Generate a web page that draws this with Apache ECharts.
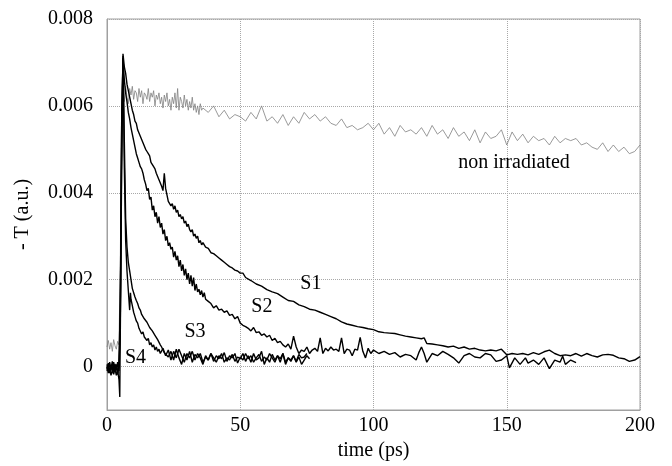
<!DOCTYPE html>
<html>
<head>
<meta charset="utf-8">
<script src="https://cdn.jsdelivr.net/npm/echarts@6/dist/echarts.min.js"></script>
<style>html,body{margin:0;padding:0;background:#fff}#c{width:672px;height:466px}</style>
</head>
<body>
<div id="c"></div>
<script>
// Values: [time (ps), -T in units of 1e-3 a.u.]
const UNIT = 1e-3;
const xTicks = [0, 50, 100, 150, 200];
const yTicks = [0, 0.002, 0.004, 0.006, 0.008];

const nonIrradiated = [
[0,0.45],[0.5,0.60],[1,0.40],[1.5,0.55],[2,0.35],[2.5,0.62],[3,0.48],[3.5,0.40],[4,0.58],[4.5,0.50],[5,2.5],[5.5,5.9],
[6,6.35],[6.5,6.10],[7,6.45],[7.5,6.20],[8,6.05],[8.5,6.40],[9,6.25],[9.5,6.45],[10,6.15],[10.5,6.35],[11,6.30],[11.5,6.10],
[12,6.40],[12.5,6.20],[13,6.35],[13.5,6.05],[14,6.30],[14.5,6.25],[15,6.15],[15.5,6.40],[16,6.10],[16.5,6.30],[17,6.20],[17.5,6.35],
[18,6.00],[18.5,6.25],[19,6.15],[19.5,6.30],[20,6.05],[20.5,6.20],[21,5.95],[21.5,6.25],[22,6.10],[22.5,6.30],[23,6.00],[23.5,6.15],
[24,5.90],[24.5,6.20],[25,6.05],[25.5,6.30],[26,5.95],[26.5,6.40],[27,5.90],[27.5,6.20],[28,6.10],[28.5,5.95],[29,6.25],[29.5,6.00],
[30,6.15],[30.5,5.90],[31,6.10],[31.5,5.95],[32,6.20],[32.5,5.90],[33,6.05],[33.5,5.85],[34,6.00],[34.5,5.80],[35,6.05],[35.5,5.90],[36,5.95],
[38,5.85],[40,6.00],[42,5.75],[44,5.90],[46,5.70],[48,5.80],[50,5.75],[52,5.65],[54,5.85],[56,5.70],[58,6.00],[60,5.65],[62,5.75],
[64,5.60],[66,5.80],[68,5.55],[70,5.75],[72,5.60],[74,5.85],[76,5.70],[78,5.80],[80,5.65],[82,5.75],[84,5.60],[86,5.55],[88,5.70],
[90,5.50],[92,5.55],[94,5.45],[96,5.50],[98,5.60],[100,5.45],[102,5.60],[104,5.35],[106,5.50],[108,5.30],[110,5.55],[112,5.40],
[114,5.45],[116,5.35],[118,5.50],[120,5.30],[122,5.55],[124,5.35],[126,5.45],[128,5.25],[130,5.50],[132,5.30],[134,5.40],[136,5.20],
[138,5.45],[140,5.15],[142,5.40],[144,5.25],[146,5.30],[148,5.45],[150,5.10],[152,5.40],[154,5.20],[156,5.35],[158,5.15],[160,5.30],
[162,5.20],[164,5.25],[166,5.10],[168,5.30],[170,5.15],[172,5.25],[174,5.20],[176,5.25],[178,5.10],[180,5.15],[182,5.05],[184,5.00],
[186,5.15],[188,4.95],[190,5.10],[192,4.95],[194,5.05],[196,4.90],[198,4.95],[200,5.10]
];

const s1 = [
[0,-0.05],[0.5,0.08],[1,-0.12],[1.5,0.02],[2,-0.08],[2.5,0.10],[3,-0.10],[3.5,0.05],[4,-0.15],[4.5,0.0],[5,1.2],[5.5,5.0],[6,7.2],
[6.5,6.9],[7,6.75],[7.5,6.5],[8,6.35],[8.5,6.2],[9,6.05],[9.5,5.9],[10,5.8],[10.5,5.65],[11,5.6],[11.5,5.45],[12,5.45],[12.5,5.3],
[13,5.3],[13.5,5.15],[14,5.15],[14.5,5.0],[15,4.95],[15.5,4.9],[16,4.85],[16.5,4.7],[17,4.7],[17.5,4.6],[18,4.55],[18.5,4.45],
[19,4.45],[19.5,4.3],[20,4.3],[20.5,4.15],[21,4.05],[21.5,4.45],[22,4.1],[22.5,3.95],[23,3.8],[23.5,3.8],[24,3.7],[24.5,3.75],
[25,3.62],[25.5,3.7],[26,3.55],[26.5,3.6],[27,3.45],[27.5,3.5],[28,3.4],[28.5,3.45],[29,3.3],[29.5,3.35],[30,3.22],[30.5,3.28],
[31,3.15],[31.5,3.1],[32,3.15],[32.5,3.0],[33,3.05],[33.5,2.95],[34,3.0],[34.5,2.85],[35,2.9],[35.5,2.8],[36,2.85],[37,2.75],
[38,2.72],[39,2.62],[40,2.6],[41,2.55],[42,2.5],[43,2.45],[44,2.4],[45,2.35],[46,2.3],[47,2.27],[48,2.22],[49,2.2],[50,2.15],
[51,2.15],[52,2.05],[54,1.98],[56,1.9],[58,1.85],[60,1.77],[62,1.72],[64,1.68],[66,1.6],[68,1.52],[70,1.5],[72,1.42],[74,1.38],
[76,1.32],[78,1.3],[80,1.25],[82,1.2],[84,1.15],[86,1.1],[88,1.03],[90,0.98],[92,0.95],[94,0.92],[96,0.9],[98,0.87],[100,0.85],
[102,0.8],[104,0.78],[106,0.77],[108,0.76],[110,0.73],[112,0.7],[114,0.68],[116,0.66],[118,0.64],[119,0.66],[120,0.53],[122,0.52],
[124,0.5],[126,0.48],[128,0.45],[130,0.47],[132,0.42],[134,0.45],[136,0.4],[138,0.42],[140,0.38],[142,0.36],[144,0.38],[146,0.36],
[148,0.4],[150,0.27],[152,0.3],[154,0.28],[156,0.3],[158,0.27],[160,0.32],[162,0.28],[164,0.34],[166,0.38],[168,0.3],[170,0.25],
[172,0.27],[174,0.25],[176,0.3],[178,0.24],[180,0.3],[182,0.25],[184,0.22],[186,0.27],[188,0.28],[190,0.26],[192,0.2],[194,0.18],
[196,0.12],[198,0.15],[200,0.23]
];

const s2 = [
[0,0.05],[0.5,-0.1],[1,0.1],[1.5,-0.05],[2,0.12],[2.5,-0.12],[3,0.06],[3.5,-0.08],[4,0.1],[4.5,-0.1],[5,0.8],[5.5,4.6],[6,7.1],
[6.5,6.6],[7,6.3],[7.5,6.1],[8,5.85],[8.5,5.7],[9,5.5],[9.5,5.35],[10,5.2],[10.5,5.05],[11,4.9],[11.5,4.8],[12,4.7],[12.5,4.6],
[13,4.55],[13.5,4.45],[14,4.3],[14.5,4.2],[15,4.05],[15.5,4.1],[16,3.85],[16.5,3.9],[17,3.6],[17.5,3.7],[18,3.45],[18.5,3.55],
[19,3.3],[19.5,3.45],[20,3.2],[20.5,3.3],[21,3.05],[21.5,3.15],[22,2.9],[22.5,3.0],[23,2.78],[23.5,2.85],[24,2.7],[24.5,2.75],
[25,2.52],[25.5,2.65],[26,2.45],[26.5,2.55],[27,2.3],[27.5,2.45],[28,2.2],[28.5,2.35],[29,2.1],[29.5,2.25],[30,2.0],[30.5,2.15],
[31,1.9],[31.5,2.1],[32,1.85],[32.5,2.05],[33,1.75],[33.5,1.9],[34,1.72],[34.5,1.78],[35,1.65],[35.5,1.75],[36,1.6],[36.5,1.7],
[37,1.55],[38,1.5],[39,1.45],[40,1.35],[41,1.4],[42,1.3],[43,1.32],[44,1.25],[45,1.28],[46,1.18],[47,1.2],[48,1.1],[49,1.15],
[50,1.0],[51,0.95],[52,0.92],[53,0.88],[54,0.82],[55,0.9],[56,0.78],[57,0.8],[58,0.72],[59,0.75],[60,0.68],[61,0.72],[62,0.6],
[63,0.65],[64,0.55],[65,0.58],[66,0.5],[67,0.45],[68,0.52],[69,0.4],[70,0.7],[71,0.45],[72,0.3],[73,0.38],[74,0.35],[75,0.45],
[76,0.3],[77,0.38],[78,0.42],[79,0.35],[80,0.66],[81,0.3],[82,0.42],[83,0.36],[84,0.45],[85,0.38],[86,0.4],[87,0.35],[88,0.66],
[89,0.3],[90,0.4],[91,0.38],[92,0.25],[93,0.4],[94,0.38],[95,0.67],[96,0.35],[97,0.2],[98,0.42],[99,0.3],[100,0.38],[102,0.3],
[104,0.35],[106,0.28],[108,0.32],[110,0.22],[112,0.28],[114,0.25],[116,0.15],[117,0.32],[118,0.45],[119,0.3],[120,0.1],[122,0.3],
[124,0.25],[126,0.35],[128,0.28],[130,0.2],[132,0.08],[134,0.25],[136,0.3],[138,0.22],[140,0.2],[142,0.3],[144,0.27],[146,0.12],
[148,0.15],[150,0.25],[151,-0.03],[153,0.2],[155,0.05],[157,0.2],[158,0.08],[160,0.15],[162,0.05],[164,0.2],[166,-0.05],[168,0.15],
[170,0.1],[171,0.24],[172,0.05],[174,0.15],[176,0.09]
];

const s3 = [
[0,-0.1],[0.5,0.05],[1,-0.15],[1.5,0.0],[2,-0.1],[2.5,0.05],[3,-0.12],[3.5,0.02],[4,-0.18],[4.5,0.1],[5,1.5],[5.5,5.5],[6,7.15],
[6.5,5.2],[7,3.4],[7.5,2.75],[8,2.4],[8.5,2.2],[9,2.0],[9.5,1.8],[10,1.7],[10.5,1.6],[11,1.52],[11.5,1.45],[12,1.35],[12.5,1.3],
[13,1.2],[13.5,1.22],[14,1.1],[14.5,1.12],[15,1.02],[15.5,1.0],[16,0.9],[16.5,0.92],[17,0.82],[17.5,0.85],[18,0.72],[18.5,0.75],
[19,0.62],[19.5,0.6],[20,0.5],[20.5,0.45],[21,0.38],[21.5,0.32],[22,0.3],[23,0.22],[24,0.35],[25,0.15],[26,0.4],[27,0.2],[28,0.05],
[29,0.3],[30,0.15],[31,0.35],[32,0.1],[33,0.28],[34,0.2],[35,0.3],[36,0.1],[37,0.22],[38,0.15],[39,0.3],[40,0.12],[41,0.25],
[42,0.18],[43,0.3],[44,0.1],[45,0.2],[46,0.15],[47,0.28],[48,0.12],[49,0.22],[50,0.18],[51,0.3],[52,0.12],[53,0.25],[54,0.1],
[55,0.3],[56,0.15],[57,0.2],[58,0.35],[59,0.05],[60,0.2],[61,0.1],[62,0.28],[63,0.15],[64,0.25],[65,0.1],[66,0.3],[67,0.05],
[68,0.2],[69,0.12],[70,0.25],[71,0.1],[72,0.22],[73,0.05],[74,0.15],[75,0.25],[76,0.18]
];

const s4 = [
[0,0.0],[0.5,-0.15],[1,-0.05],[1.5,-0.2],[2,-0.08],[2.5,-0.18],[3,-0.05],[3.5,-0.2],[4,-0.1],[4.5,-0.3],[4.8,-0.7],[5.1,2.0],
[5.5,5.6],[6,7.1],[6.5,4.6],[7,2.9],[7.5,2.2],[8,1.75],[8.5,1.3],[8.8,1.7],[9,1.55],[9.5,1.4],[10,1.25],[10.5,1.15],[11,1.05],
[11.5,1.0],[12,0.88],[12.5,0.9],[13,0.75],[13.5,0.8],[14,0.68],[14.5,0.72],[15,0.6],[15.5,0.65],[16,0.5],[16.5,0.55],[17,0.45],
[17.5,0.5],[18,0.38],[18.5,0.45],[19,0.35],[19.5,0.4],[20,0.3],[21,0.42],[22,0.25],[23,0.38],[24,0.15],[25,0.35],[26,0.2],
[27,0.4],[28,0.25],[29,0.1],[30,0.3],[31,0.2],[32,0.35],[33,0.15],[34,0.3],[35,0.2],[36,0.05],[37,0.25],[38,0.15],[39,0.3],
[40,0.2],[41,0.1],[42,0.25],[43,0.18],[44,0.32],[45,0.12],[46,0.25],[47,0.2],[48,0.3],[49,0.08],[50,0.22],[51,0.15],[52,0.3],
[53,0.18],[54,0.25],[55,0.1],[56,0.2],[57,0.28],[58,0.12],[59,0.22],[60,0.15],[61,0.3],[62,0.2],[63,0.1],[64,0.25],[65,0.18],
[66,0.3],[67,0.1],[68,0.2],[69,0.15],[70,0.25],[71,0.12],[72,0.28],[73,0.2],[74,0.22],[75,0.3]
];

// Curve annotations (data coordinates, -T in units of 1e-3)
const labelNames = ['non irradiated', 'S1', 'S2', 'S3', 'S4'];
const labelAt = [[152.7, 4.69], [76.5, 1.90], [58.1, 1.38], [33, 0.80], [10.7, 0.20]];

const FONT = 'Liberation Serif';
const toPts = arr => arr.map(p => [p[0], p[1] * UNIT]);
const lineSeries = (name, arr, color, width) => ({
  name, type: 'line', data: toPts(arr), showSymbol: false, symbol: 'none',
  lineStyle: { color, width }, z: 3, silent: true
});

const chart = echarts.init(document.getElementById('c'));
chart.setOption({
  animation: false,
  backgroundColor: '#fff',
  grid: { left: 107, top: 19, width: 533, height: 391, show: true, borderColor: '#a0a0a0', borderWidth: 1, backgroundColor: 'transparent' },
  xAxis: {
    type: 'value', min: xTicks[0], max: xTicks[xTicks.length - 1], interval: 50,
    name: 'time (ps)', nameLocation: 'middle', nameGap: 27,
    nameTextStyle: { fontFamily: FONT, fontSize: 20, color: '#000' },
    axisLine: { show: true, onZero: false, lineStyle: { color: '#a0a0a0', width: 1 } },
    axisTick: { show: false },
    axisLabel: { fontFamily: FONT, fontSize: 20, color: '#000', margin: 6 },
    splitLine: { show: true, lineStyle: { color: '#a8a8a8', type: [1, 1], width: 1 } }
  },
  yAxis: {
    type: 'value', min: -0.001, max: 0.008,
    name: '- T (a.u.)', nameLocation: 'middle', nameGap: 74,
    nameTextStyle: { fontFamily: FONT, fontSize: 20, color: '#000' },
    axisLine: { show: true, onZero: false, lineStyle: { color: '#a0a0a0', width: 1 } },
    axisTick: { show: false, customValues: yTicks },
    axisLabel: { customValues: yTicks, fontFamily: FONT, fontSize: 20, color: '#000', margin: 14,
      formatter: v => (Math.abs(v) < 1e-9 ? '0' : v.toFixed(3)) },
    splitLine: { show: true, lineStyle: { color: '#a8a8a8', type: [1, 1], width: 1 } }
  },
  series: [
    lineSeries('non irradiated', nonIrradiated, '#808080', 0.8),
    lineSeries('S1', s1, '#000', 1.4),
    lineSeries('S2', s2, '#000', 1.4),
    lineSeries('S3', s3, '#000', 1.4),
    lineSeries('S4', s4, '#000', 1.4),
    {
      type: 'scatter', symbolSize: 0, silent: true, z: 5,
      itemStyle: { opacity: 1 },
      data: labelNames.map((n, i) => ({ name: n, value: [labelAt[i][0], labelAt[i][1] * UNIT] })),
      label: { show: true, position: 'inside', formatter: '{b}', fontFamily: FONT, fontSize: 20, color: '#000', opacity: 1 }
    }
  ]
});
</script>
</body>
</html>
